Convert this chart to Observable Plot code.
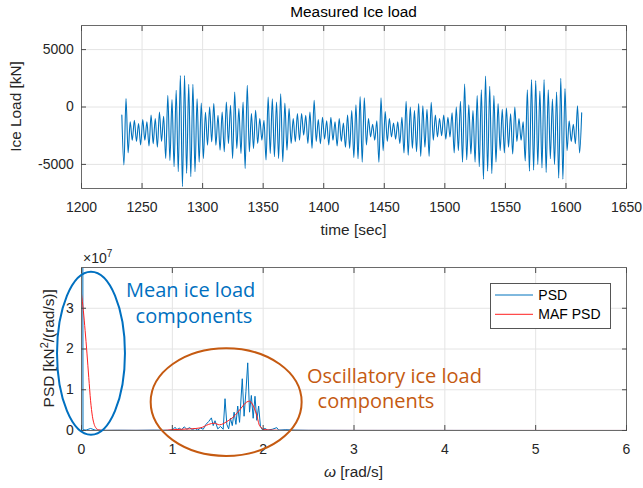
<!DOCTYPE html>
<html><head><meta charset="utf-8">
<script src="https://cdn.jsdelivr.net/npm/d3@7"></script>
<script src="https://cdn.jsdelivr.net/npm/@observablehq/plot@0.6"></script>
<style>
body{margin:0;background:#fff;}
#chart{position:relative;width:643px;height:488px;background:#fff;}
#chart svg{display:block;}
</style></head><body><div id="chart"></div>
<script>
// ---------- data ----------
const titleTop = "Measured Ice load";
const xLabelTop = "time [sec]";
const yLabelTop = "Ice Load [kN]";
const timeTicks = [1200, 1250, 1300, 1350, 1400, 1450, 1500, 1550, 1600, 1650];
const loadTicks = [-5000, 0, 5000];
const loadStart = 1233.3, loadEnd = 1613.0;
// successive local extrema of the measured ice load [kN]
const loadExtrema = [-700,
 -5050,730, -3990,-1300, -2900,-1150, -3000,-1450, -3300,-1100, -2900,-1300, -3400,-700, -3200,-1000, -3500,-430, -3000,-800,
 -4480,1010, -4650,640, -5200,1450, -5640,2750, -6940,2750, -5780,1970, -6070,1970, -5640,720, -4800,350, -4480,-470,
 -3320,5, -3030,290, -3320,-720, -3760,-430, -3900,430, -3180,150, -4480,1300, -3610,-140, -4050,440, -5350,1880,
 -3900,-580, -3610,-290, -3180,-1010, -2890,-1150, -4620,870, -4050,720, -4330,440, -4480,1160, -4770,350, -3760,-140,
 -3180,-1010, -3030,-580, -2890,-580, -2450,-720, -3180,-430, -3600,580, -3000,-1100, -3200,-900, -2800,-1200, -3300,-900,
 -2900,-1300, -3400,-1000, -3000,-1400, -3500,-700, -3600,-300, -4400,200, -4500,900, -4800,800, -3300,-1000, -2600,-1500,
 -2900,-1200, -4800,800, -3800,-400, -3000,-1000, -2600,-1400, -2800,-1300, -3200,-900, -4000,500, -4200,0, -3600,-300,
 -3900,300, -4300,100, -3500,-200, -4300,400, -2900,-700, -2600,-1000, -2500,-700, -2800,-900, -2600,-500, -4000,0,
 -3800,500, -4800,2000, -4600,200, -4100,-300, -4800,1000, -5200,1500, -6300,2700, -5600,1800, -5800,1000, -4800,300,
 -3800,-200, -4000,-100, -3500,-600, -4100,0, -3000,-1000, -2900,-1300, -4700,1500, -5600,2400, -5500,2300, -5000,1400,
 -5300,2400, -5700,1500, -4500,700, -5000,1300, -6200,2500, -6300,1600, -3800,-1200, -3000,-1500, -3200,100, -4000,-500];

const xLabelBottom = " [rad/s]";
const omegaTicks = [0, 1, 2, 3, 4, 5, 6];
const psdTicks = [0, 1e7, 2e7, 3e7];
const psdOmega = [0, 0.0165, 0.05, 0.1, 0.15, 0.25, 0.4, 0.6, 0.8, 0.95,
 1.00, 1.03, 1.05, 1.08, 1.10, 1.13, 1.16, 1.19, 1.22, 1.25,
 1.28, 1.31, 1.34, 1.37, 1.40, 1.43, 1.45, 1.47, 1.50, 1.53,
 1.56, 1.58, 1.60, 1.62, 1.64, 1.66, 1.68, 1.70, 1.72, 1.74,
 1.77, 1.79, 1.81, 1.83, 1.85, 1.87, 1.89, 1.91, 1.93, 1.95,
 1.97, 1.99, 2.02, 2.05, 2.10, 2.15, 2.17, 2.25, 2.35, 2.5,
 3.0, 4.0, 5.0, 6.0];
const psdValue = [4e8, 2e5, 1e5, 5e5, 1e5, 5e4, 8e4, 5e4, 1e5, 5e4,
 1e5, 8e5, 2e5, 6e5, 1e5, 9e5, 3e5, 7e5, 2e5, 5e5,
 1e5, 6e5, 3e5, 1.5e6, 2.2e6, 3.1e6, 1.2e6, 2.4e6, 4e5, 1.0e6,
 3e5, 7.8e6, 1.5e6, 4e5, 3.0e6, 1.2e6, 4.5e6, 1.5e6, 6.0e6, 2.0e6,
 1.27e7, 3.5e6, 9.5e6, 1.66e7, 4.5e6, 8.6e6, 3.0e6, 8.4e6, 2.5e6, 6.0e6,
 1.0e6, 2e5, 5e5, 1e5, 3e5, 7e5, 1e5, 2e5, 1e5, 5e4,
 3e4, 2e4, 1e4, 1e4];
const mafOmega = [0, 0.02, 0.04, 0.06, 0.08, 0.10, 0.12, 0.14, 0.16, 0.19,
 0.25, 0.9, 1.0, 1.1, 1.2, 1.31, 1.40, 1.46, 1.52, 1.60,
 1.69, 1.75, 1.82, 1.85, 1.88, 1.93, 1.96, 2.02, 2.1, 2.2, 6.0];
const mafValue = [3.35e7, 2.95e7, 2.45e7, 1.9e7, 1.3e7, 7.3e6, 3.5e6, 1.5e6, 6e5, 1.5e5,
 2e4, 2e4, 2e5, 3e5, 4e5, 6.5e5, 1.5e6, 1.8e6, 1.4e6, 2.2e6,
 3.7e6, 5.3e6, 7.0e6, 7.2e6, 6.5e6, 3.7e6, 1.2e6, 2e5, 1e5, 2e4, 1e4];
const legendLabels = ["PSD", "MAF PSD"];
const noteMean = ["Mean ice load", "components"];
const noteOsc = ["Oscillatory ice load", "components"];

// ---------- tables ----------
const nLoad = loadExtrema.length;
const loadData = loadExtrema.map((v, i) => ({t: loadStart + i * (loadEnd - loadStart) / (nLoad - 1), v}));
const psdData = psdOmega.map((w, i) => ({w, p: psdValue[i]}));
const mafData = mafOmega.map((w, i) => ({w, p: mafValue[i]}));

// ---------- styles ----------
const FONT = "'Liberation Sans', Arial, Helvetica, sans-serif";
const TXT = "#262626";
const GRID = "#e4e4e4";
const FRAME = "#6a6a6a";
const TICK = "#4a4a4a";
const BLUE = "#0072BD";
const RED = "#ff2020";
const W = 643, ML = 81, MR = 17;

function inwardTicks(xt, yt) {
  return [
    Plot.axisX(xt, {anchor: "bottom", tickSize: 5, dy: -5, fill: "none", stroke: TICK, label: null}),
    Plot.axisX(xt, {anchor: "top", tickSize: 5, dy: 5, fill: "none", stroke: TICK, label: null}),
    Plot.axisY(yt, {anchor: "left", tickSize: 5, dx: 5, fill: "none", stroke: TICK, label: null}),
    Plot.axisY(yt, {anchor: "right", tickSize: 5, dx: -5, fill: "none", stroke: TICK, label: null})
  ];
}

const topPlot = Plot.plot({
  width: W, height: 250, marginLeft: ML, marginRight: MR, marginTop: 25, marginBottom: 62,
  style: {fontFamily: FONT, fontSize: "14px", color: TXT, background: "white", overflow: "visible"},
  x: {domain: [1200, 1650]},
  y: {domain: [-7100, 7100]},
  marks: [
    Plot.gridX(timeTicks, {stroke: GRID, strokeOpacity: 1}),
    Plot.gridY(loadTicks, {stroke: GRID, strokeOpacity: 1}),
    Plot.line(loadData, {x: "t", y: "v", stroke: BLUE, strokeWidth: 1.1, curve: "monotone-x", clip: true}),
    Plot.frame({stroke: FRAME}),
    ...inwardTicks(timeTicks, loadTicks),
    Plot.axisX(timeTicks, {anchor: "bottom", tickSize: 0, tickPadding: 13.5, tickFormat: d => String(d), label: null}),
    Plot.axisY(loadTicks, {anchor: "left", tickSize: 0, tickPadding: 7.7, tickFormat: d => String(d), label: null})
  ]
});

const botPlot = Plot.plot({
  width: W, height: 238, marginLeft: ML, marginRight: MR, marginTop: 17, marginBottom: 58,
  style: {fontFamily: FONT, fontSize: "14px", color: TXT, background: "white", overflow: "visible"},
  x: {domain: [0, 6]},
  y: {domain: [0, 4e7]},
  marks: [
    Plot.gridX(omegaTicks, {stroke: GRID, strokeOpacity: 1}),
    Plot.gridY(psdTicks, {stroke: GRID, strokeOpacity: 1}),
    Plot.line(psdData, {x: "w", y: "p", stroke: BLUE, strokeWidth: 1, clip: true}),
    Plot.line(mafData, {x: "w", y: "p", stroke: RED, strokeWidth: 1, curve: "monotone-x", clip: true}),
    Plot.frame({stroke: FRAME}),
    ...inwardTicks(omegaTicks, psdTicks),
    Plot.axisX(omegaTicks, {anchor: "bottom", tickSize: 0, tickPadding: 13.5, tickFormat: d => String(d), label: null}),
    Plot.axisY(psdTicks, {anchor: "left", tickSize: 0, tickPadding: 7.7, tickFormat: d => String(d / 1e7), label: null})
  ]
});

const chart = document.getElementById("chart");
chart.appendChild(topPlot);
chart.appendChild(botPlot);

// ---------- titles and labels ----------
const st = d3.select(topPlot);
st.append("text").attr("x", 353.5).attr("y", 16.5).attr("text-anchor", "middle")
  .attr("font-size", 15.4).attr("fill", "#000").text(titleTop);
st.append("text").attr("x", 353.5).attr("y", 235).attr("text-anchor", "middle")
  .attr("font-size", 15.4).attr("fill", TXT).text(xLabelTop);
st.append("text").attr("transform", "translate(21,106.5) rotate(-90)").attr("text-anchor", "middle")
  .attr("font-size", 15.4).attr("fill", TXT).text(yLabelTop);

const sb = d3.select(botPlot);
const xl = sb.append("text").attr("x", 353.5).attr("y", 226.5).attr("text-anchor", "middle")
  .attr("font-size", 15.4).attr("fill", TXT);
xl.append("tspan").attr("font-style", "italic").text("ω");
xl.append("tspan").text(xLabelBottom);
const yl = sb.append("text").attr("transform", "translate(54,98.3) rotate(-90)").attr("text-anchor", "middle")
  .attr("font-size", 15.4).attr("fill", TXT);
yl.append("tspan").text("PSD [kN");
yl.append("tspan").attr("font-size", 11).attr("dy", -6).text("2");
yl.append("tspan").attr("dy", 6).text("/(rad/s)]");
const ex = sb.append("text").attr("x", 83).attr("y", 13.3).attr("text-anchor", "start")
  .attr("font-size", 14).attr("fill", TXT);
ex.append("tspan").text("×10");
ex.append("tspan").attr("font-size", 10).attr("dy", -6).text("7");

// ---------- legend ----------
const lg = sb.append("g");
lg.append("rect").attr("x", 490.5).attr("y", 33.5).attr("width", 120).attr("height", 45)
  .attr("fill", "white").attr("stroke", "#555").attr("stroke-width", 1);
const legendColors = [BLUE, RED];
legendLabels.forEach((lab, i) => {
  const y = 45 + i * 19.3;
  lg.append("line").attr("x1", 495).attr("x2", 533).attr("y1", y).attr("y2", y)
    .attr("stroke", legendColors[i]).attr("stroke-width", 1);
  lg.append("text").attr("x", 538.3).attr("y", y + 5).attr("text-anchor", "start")
    .attr("font-size", 14).attr("fill", "#000").text(lab);
});

// ---------- annotations ----------
const xs = botPlot.scale("x"), ys = botPlot.scale("y");
function ellipse(cw, cp, rw, rp, color) {
  const cx = xs.apply(cw), cy = ys.apply(cp);
  sb.append("ellipse").attr("cx", cx).attr("cy", cy)
    .attr("rx", xs.apply(cw + rw) - cx).attr("ry", cy - ys.apply(cp + rp))
    .attr("fill", "none").attr("stroke", color).attr("stroke-width", 2);
}
const NBLUE = "#0070C0", NORANGE = "#C55A11";
ellipse(0.110, 1.883e7, 0.374, 2.0e7, NBLUE);
ellipse(1.598, 0.685e7, 0.831, 1.32e7, NORANGE);
const NFONT = "'Open Sans', Lato, sans-serif";
sb.append("text").attr("x", 126).attr("y", 46.5).attr("text-anchor", "start").attr("font-family", NFONT)
  .attr("font-size", 20).attr("fill", NBLUE).text(noteMean[0]);
sb.append("text").attr("x", 194).attr("y", 72.5).attr("text-anchor", "middle").attr("font-family", NFONT)
  .attr("font-size", 20).attr("fill", NBLUE).text(noteMean[1]);
sb.append("text").attr("x", 307).attr("y", 132.5).attr("text-anchor", "start").attr("font-family", NFONT)
  .attr("font-size", 20).attr("fill", NORANGE).text(noteOsc[0]);
sb.append("text").attr("x", 376).attr("y", 158).attr("text-anchor", "middle").attr("font-family", NFONT)
  .attr("font-size", 20).attr("fill", NORANGE).text(noteOsc[1]);
</script></body></html>
